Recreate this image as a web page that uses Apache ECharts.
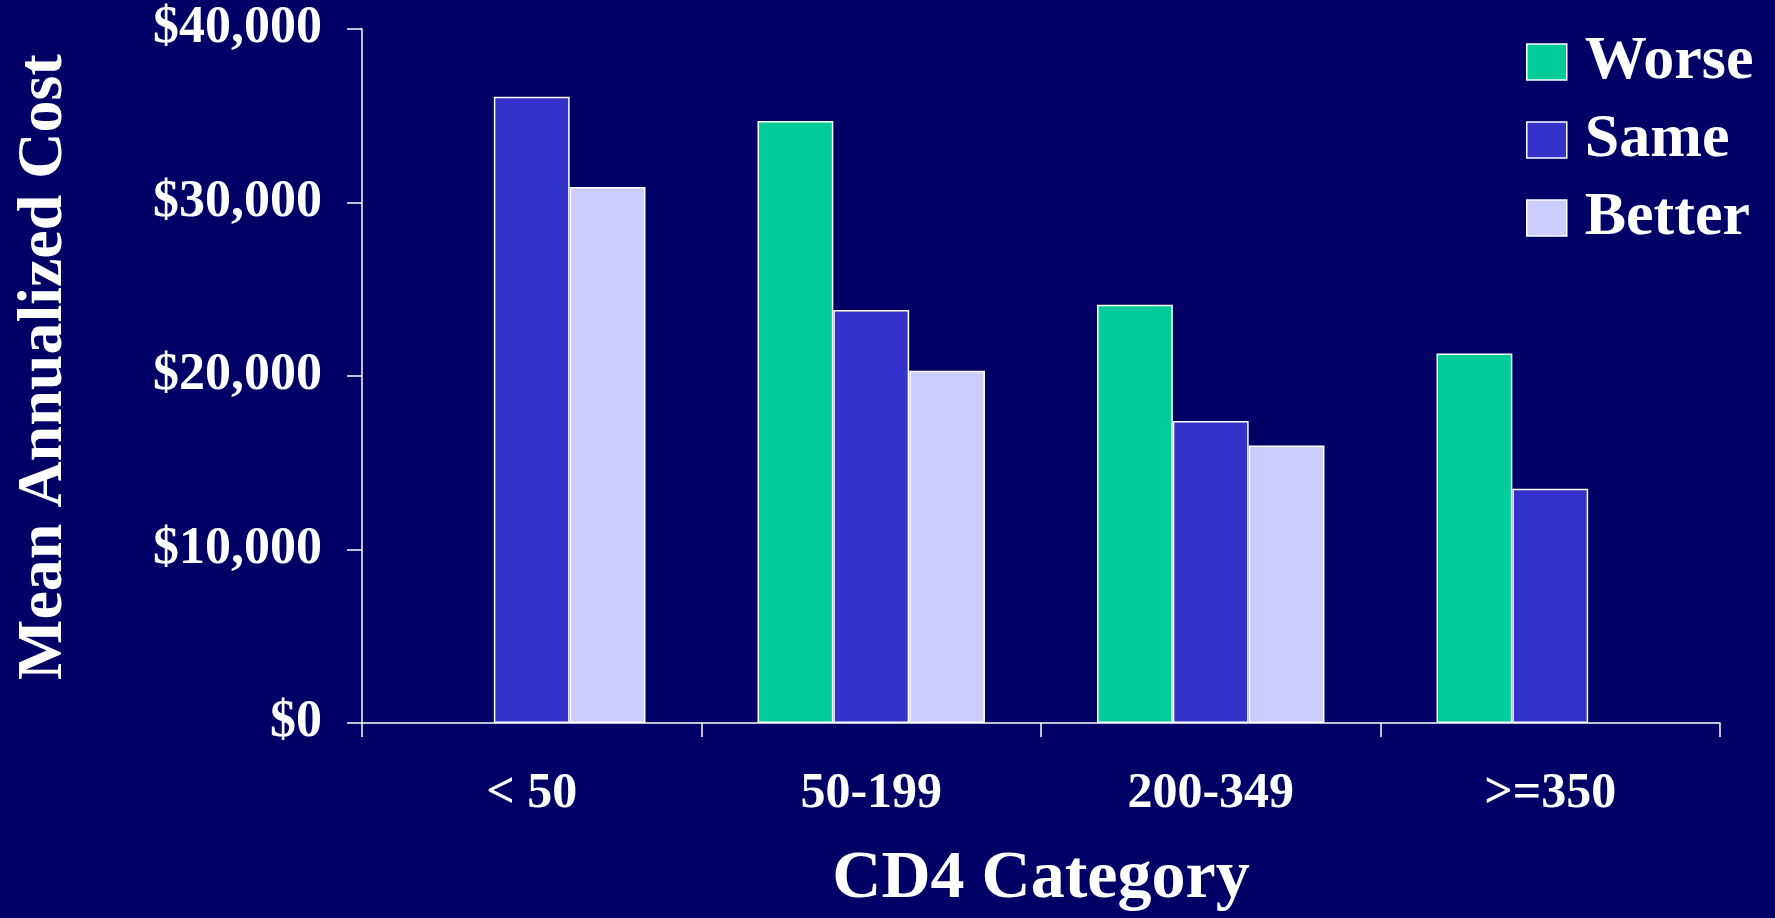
<!DOCTYPE html>
<html>
<head>
<meta charset="utf-8">
<script src="https://cdn.jsdelivr.net/npm/echarts@6/dist/echarts.min.js"></script>
<style>
html,body{margin:0;padding:0;background:#000066;}
#c{width:1775px;height:918px;}
</style>
</head>
<body>
<div id="c"></div>
<script>
const categories = ['< 50', '50-199', '200-349', '>=350'];
const seriesNames = ['Worse', 'Same', 'Better'];
const worse = [null, 34700, 24100, 21300];
const same = [36100, 23800, 17400, 13500];
const better = [30900, 20300, 16000, null];
const yTicks = [0, 10000, 20000, 30000, 40000];
const yTitle = 'Mean Annualized Cost';
const xTitle = 'CD4 Category';

const colors = ['#00CC99', '#3333CC', '#CCCCFF'];
const font = '"Liberation Serif", "Times New Roman", serif';
const chart = echarts.init(document.getElementById('c'));
const values = [worse, same, better];

chart.setOption({
  backgroundColor: '#000066',
  animation: false,
  grid: { left: 362, right: 55, top: 29, bottom: 190 },
  legend: {
    data: seriesNames,
    orient: 'vertical',
    left: 1526,
    top: 31,
    padding: 0,
    itemWidth: 40,
    itemHeight: 36,
    itemGap: 16,
    icon: 'rect',
    itemStyle: { borderColor: '#ffffff', borderWidth: 1.5 },
    textStyle: { color: '#ffffff', fontFamily: font, fontWeight: 'bold', fontSize: 62, lineHeight: 60, padding: [0, 0, 0, 13] }
  },
  xAxis: {
    type: 'category',
    data: categories,
    name: xTitle,
    nameLocation: 'middle',
    nameGap: 122,
    nameTextStyle: { color: '#ffffff', fontFamily: font, fontWeight: 'bold', fontSize: 68 },
    axisLine: { lineStyle: { color: '#ffffff', width: 1.5 } },
    axisTick: { show: true, alignWithLabel: false, length: 14, lineStyle: { color: '#ffffff', width: 1.5 } },
    axisLabel: { color: '#ffffff', fontFamily: font, fontWeight: 'bold', fontSize: 50, margin: 46 },
    splitLine: { show: false }
  },
  yAxis: {
    type: 'value',
    min: yTicks[0],
    max: yTicks[yTicks.length - 1],
    interval: yTicks[1] - yTicks[0],
    axisLine: { show: true, lineStyle: { color: '#ffffff', width: 1.5 } },
    axisTick: { show: true, inside: false, length: 15, lineStyle: { color: '#ffffff', width: 1.5 } },
    axisLabel: {
      color: '#ffffff', fontFamily: font, fontWeight: 'bold', fontSize: 52, margin: 40,
      formatter: v => '$' + v.toLocaleString('en-US')
    },
    splitLine: { show: false }
  },
  graphic: [{
    type: 'text',
    x: 44,
    y: 680,
    rotation: Math.PI / 2,
    style: {
      text: yTitle,
      fill: '#ffffff',
      font: 'bold 64px ' + font,
      textAlign: 'left',
      textVerticalAlign: 'middle'
    }
  }],
  series: seriesNames.map((n, i) => ({
    name: n,
    type: 'bar',
    data: values[i],
    barGap: '0%',
    barCategoryGap: '33%',
    itemStyle: { color: colors[i], borderColor: '#ffffff', borderWidth: 1.5 }
  }))
});
</script>
</body>
</html>
